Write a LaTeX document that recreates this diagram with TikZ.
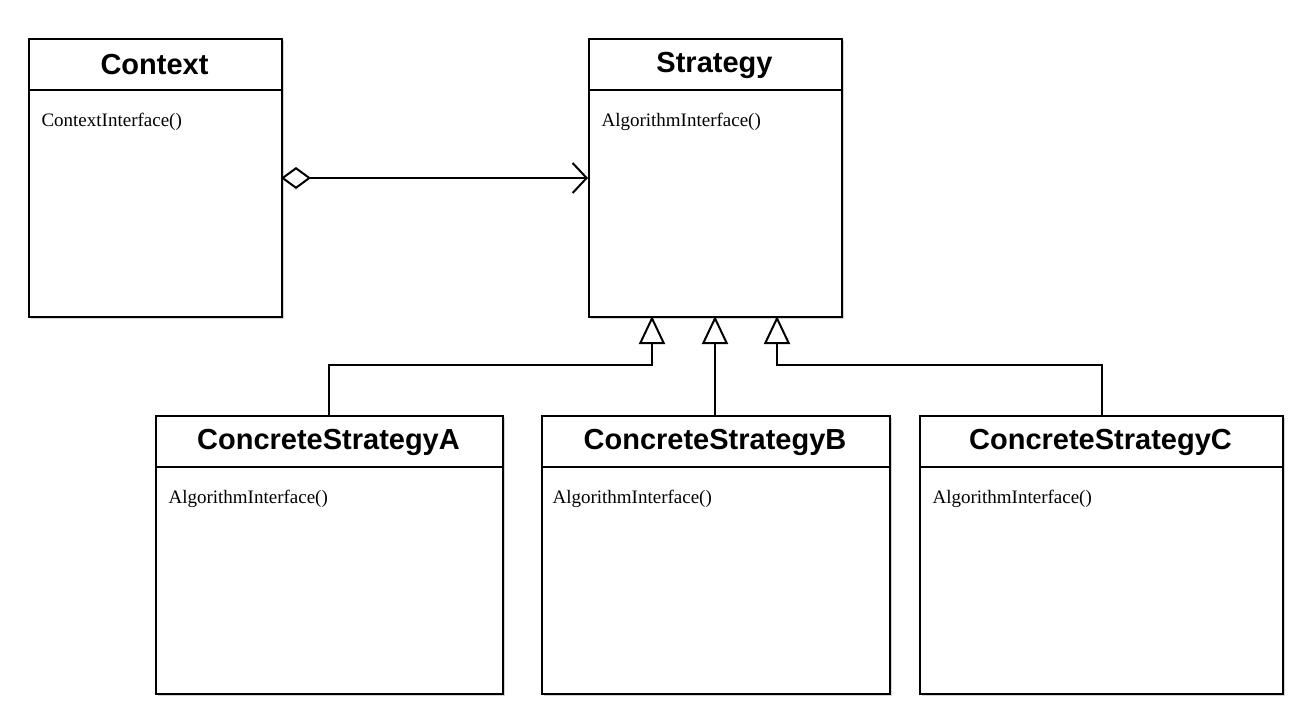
\documentclass[tikz,border=0pt]{standalone}
\usepackage{fontspec}
\setmainfont{Liberation Serif}
\newfontfamily\hd{Liberation Sans}
\usetikzlibrary{arrows.meta,shadows}
\begin{document}
\begin{tikzpicture}[x=1pt,y=-1pt,
  box/.style={draw,line width=2pt,fill=white,drop shadow={shadow xshift=2pt,shadow yshift=-2pt,opacity=0.35}},
  ttl/.style={font=\hd\bfseries\fontsize{29}{32}\selectfont},
  mth/.style={font=\fontsize{19}{22}\selectfont,anchor=west},
  ln/.style={line width=2pt},
  inh/.style={ln,-{Triangle[open,length=28pt,width=26pt,line width=2pt]}}]
\useasboundingbox (0,0) rectangle (1307,715);
% class macro via nodes
\newcommand{\umlclass}[6]{%
  \node[box,minimum width=#4-#2,minimum height=#5-#3,anchor=north west,inner sep=0] (#1) at (#2,#3) {};
  \draw[line width=2pt] (#2,#3+52) -- (#4,#3+52);
  \node[ttl] (#1t) at ({(#2+#4)/2},#3+27) {#6};
}
\umlclass{ctx}{28}{38}{281}{316}{Context}
\node[mth] (ctxm) at (38,122) {ContextInterface()};
\umlclass{str}{588}{38}{841}{316}{Strategy}
\node[mth] (strm) at (598,122) {AlgorithmInterface()};
\umlclass{ca}{155}{415}{502}{693}{ConcreteStrategyA}
\node[mth] (cam) at (165,499) {AlgorithmInterface()};
\umlclass{cb}{541}{415}{889}{693}{ConcreteStrategyB}
\node[mth] (cbm) at (549,499) {AlgorithmInterface()};
\umlclass{cc}{919}{415}{1282}{693}{ConcreteStrategyC}
\node[mth] (ccm) at (929,499) {AlgorithmInterface()};
% aggregation
\coordinate (ag) at (281,178);
\coordinate (sa) at (588,178);
\draw[ln,{Diamond[open,length=30pt,width=22pt,line width=2pt]}-{Straight Barb[length=14pt,width=30pt,line width=2pt]}] (ag) -- (sa);
% inheritance
\coordinate (ta) at (652,316);
\coordinate (tb) at (715,316);
\coordinate (tc) at (777,316);
\draw[inh] (ca.north -| 329,0) |- (652,365) -- (ta);
\draw[inh] (cb.north -| 715,0) -- (tb);
\draw[inh] (cc.north -| 1102,0) |- (777,365) -- (tc);
\end{tikzpicture}
\end{document}
